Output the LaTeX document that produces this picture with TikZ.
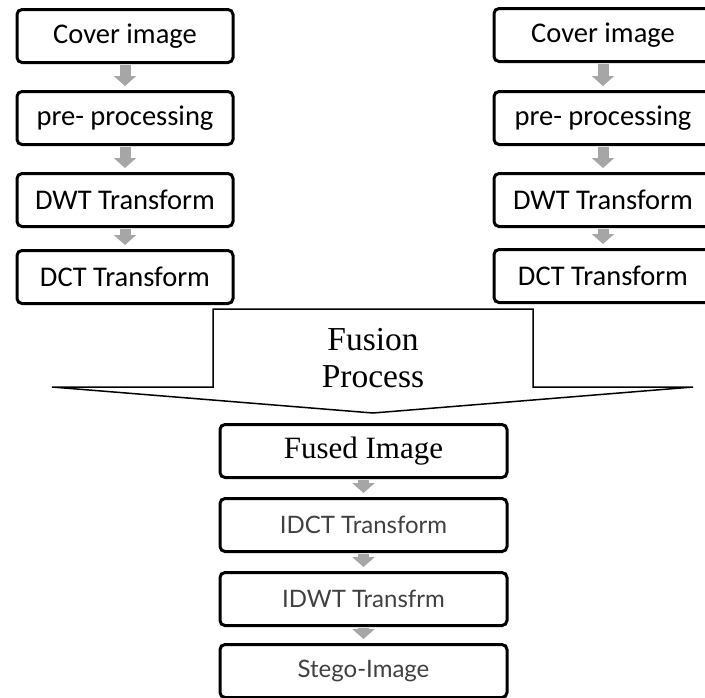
\documentclass[tikz,border=0pt]{standalone}
\usepackage{fontspec}
\setmainfont{Carlito}
\newfontfamily\timesface{Liberation Serif}
\newfontfamily\latoface{Lato}
\usetikzlibrary{arrows.meta}
\definecolor{flowgray}{HTML}{A6A6A6}
\definecolor{textgray}{HTML}{404040}

\begin{document}
\begin{tikzpicture}[x=1pt,y=-1pt,
		box/.style={draw,line width=3pt,rounded corners=5pt,inner sep=0pt,
			minimum height=53pt,font=\fontsize{28.5}{32}\selectfont},
		flow/.style={draw=flowgray,line width=11pt,shorten <=1pt,shorten >=4pt,
			-{Triangle[width=22pt,length=10pt]}}]
			\clip (0,0) rectangle (705,697);
			% left column
			\node[box,minimum width=216pt] (coverL) at (125,36) {Cover image};
			\node[box,minimum width=216pt] (preL) at (125,118) {pre- processing};
			\node[box,minimum width=216pt] (dwtL) at (125,200) {DWT Transform};
			\node[box,minimum width=216pt] (dctL) at (125,277) {DCT Transform};
			% right column
			\node[box,minimum width=218pt] (coverR) at (603,35) {Cover image};
			\node[box,minimum width=218pt] (preR) at (603,118) {pre- processing};
			\node[box,minimum width=218pt] (dwtR) at (603,200) {DWT Transform};
			\node[box,minimum width=218pt] (dctR) at (603,276) {DCT Transform};
			
			\draw[flow] (coverL) -- (preL);
			\draw[flow] (preL) -- (dwtL);
			\draw[flow] (dwtL) -- (dctL);
			\draw[flow] (coverR) -- (preR);
			\draw[flow] (preR) -- (dwtR);
			\draw[flow] (dwtR) -- (dctR);
			
			% fusion arrow
			\draw[line width=1.5pt,line join=miter] (213,309) -- (533,309) -- (533,387) -- (693,387)
				-- (373,413) -- (52,387) -- (213,387) -- cycle;
			\node[align=center,font=\timesface\fontsize{33.5}{37}\selectfont] (fusion) at (373,358) {Fusion\\Process};
			
			% bottom column
			\node[box,minimum width=287pt,font=\timesface\fontsize{31}{34}\selectfont] (fused) at (363.5,451) {Fused Image};
			\node[box,minimum width=287pt,font=\latoface\fontsize{24}{28}\selectfont,text=textgray] (idct) at (363.5,525) {IDCT Transform};
			\node[box,minimum width=287pt,font=\latoface\fontsize{24}{28}\selectfont,text=textgray] (idwt) at (363.5,599) {IDWT Transfrm};
			\node[box,minimum width=287pt,font=\latoface\fontsize{24}{28}\selectfont,text=textgray] (stego) at (363.5,671) {Stego-Image};
			
			\draw[flow] (fused) -- (idct);
			\draw[flow] (idct) -- (idwt);
			\draw[flow] (idwt) -- (stego);
		\end{tikzpicture}
\end{document}
